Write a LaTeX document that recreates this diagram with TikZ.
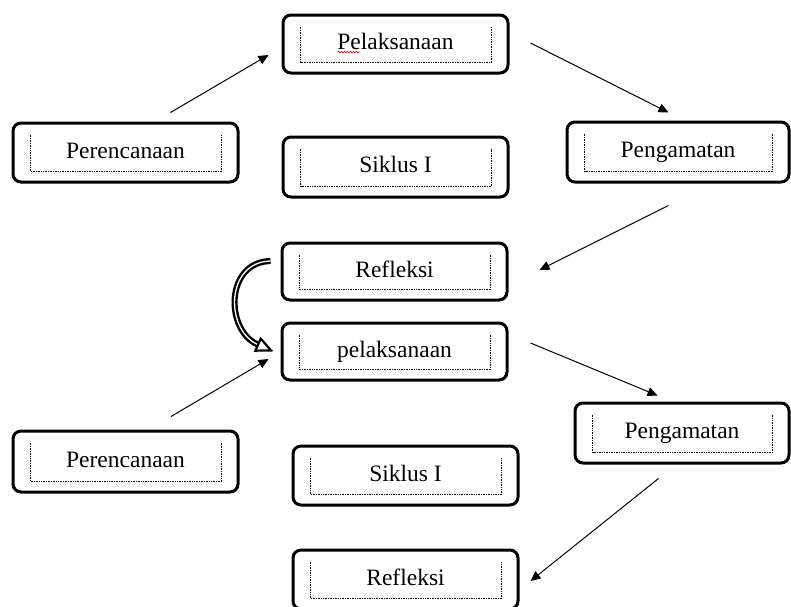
\documentclass[tikz,border=0pt]{standalone}
\usepackage{fontspec}
\setmainfont{Liberation Serif}
\usetikzlibrary{arrows.meta,decorations.pathmorphing}
\tikzset{
  outerbox/.style={draw, line width=3pt, rounded corners=8pt, inner sep=0pt,
    font=\fontsize{23.5}{28}\selectfont, text height=16pt, text depth=5pt},
  innerdot/.style={line width=0.8pt, dash pattern=on 0.8pt off 0.9pt},
  flow/.style={line width=1pt, -{Triangle[length=10pt,width=9pt]}},
  bendarrow/.style={line width=2.4pt, double, double distance=1.3pt,
    -{Triangle[open,length=18pt,width=16pt,line width=2.2pt]}},
  squiggle/.style={red, line width=0.6pt, decorate,
    decoration={snake, amplitude=0.8pt, segment length=3pt}}
}
\newcommand\mybox[6]{%
  \node[outerbox, minimum width={(#4-#2)*1pt}, minimum height={(#5-#3)*1pt}]
    (#1) at ({(#2+#4)/2},{(#3+#5)/2}) {#6};
  \draw[innerdot] ([xshift=19pt,yshift=-13pt]#1.north west)
    -- ([xshift=19pt,yshift=12pt]#1.south west)
    -- ([xshift=-18pt,yshift=12pt]#1.south east)
    -- ([xshift=-18pt,yshift=-13pt]#1.north east);
}
\begin{document}
\begin{tikzpicture}[x=1pt,y=-1pt]
  \useasboundingbox (0,0) rectangle (791,606);
  \clip (0,0) rectangle (791,606);
  \mybox{p1}{283}{15}{508}{73}{Pelaksanaan}
  \mybox{r1}{13}{123}{238}{182}{Perencanaan}
  \mybox{s1}{283}{137}{508}{197}{Siklus I}
  \mybox{g1}{567}{122}{789}{182}{Pengamatan}
  \mybox{f1}{282}{243}{507}{300}{Refleksi}
  \mybox{p2}{282}{323}{507}{380}{pelaksanaan}
  \mybox{r2}{13}{431}{238}{492}{Perencanaan}
  \mybox{s2}{293}{446}{518}{505}{Siklus I}
  \mybox{g2}{575}{403}{789}{463}{Pengamatan}
  \mybox{f2}{293}{550}{518}{609}{Refleksi}
  % spell-check mark
  \draw[squiggle] ([xshift=-58pt,yshift=-8pt]p1.center) -- ([xshift=-36pt,yshift=-8pt]p1.center);
  % connectors
  \draw[flow] ([xshift=45pt,yshift=9pt]r1.north) -- ([xshift=-13pt,yshift=-11pt]p1.west);
  \draw[flow] ([xshift=21pt,yshift=1pt]p1.east) -- ([xshift=-9.5pt,yshift=8pt]g1.north);
  \draw[flow] ([xshift=-9.5pt,yshift=-22pt]g1.south) -- ([xshift=31pt,yshift=1.5pt]f1.east);
  \draw[flow] ([xshift=45.5pt,yshift=13pt]r2.north) -- ([xshift=-12pt,yshift=-7.5pt]p2.west);
  \draw[flow] ([xshift=22pt,yshift=8.5pt]p2.east) -- ([xshift=-24.5pt,yshift=6pt]g2.north);
  \draw[flow] ([xshift=-23.5pt,yshift=-14pt]g2.south) -- ([xshift=11pt,yshift=-1.5pt]f2.east);
  \draw[bendarrow] ([xshift=-10pt,yshift=10.5pt]f1.west)
    .. controls (225,262) and (225,330) .. ([xshift=-7pt]p2.west);
\end{tikzpicture}
\end{document}
